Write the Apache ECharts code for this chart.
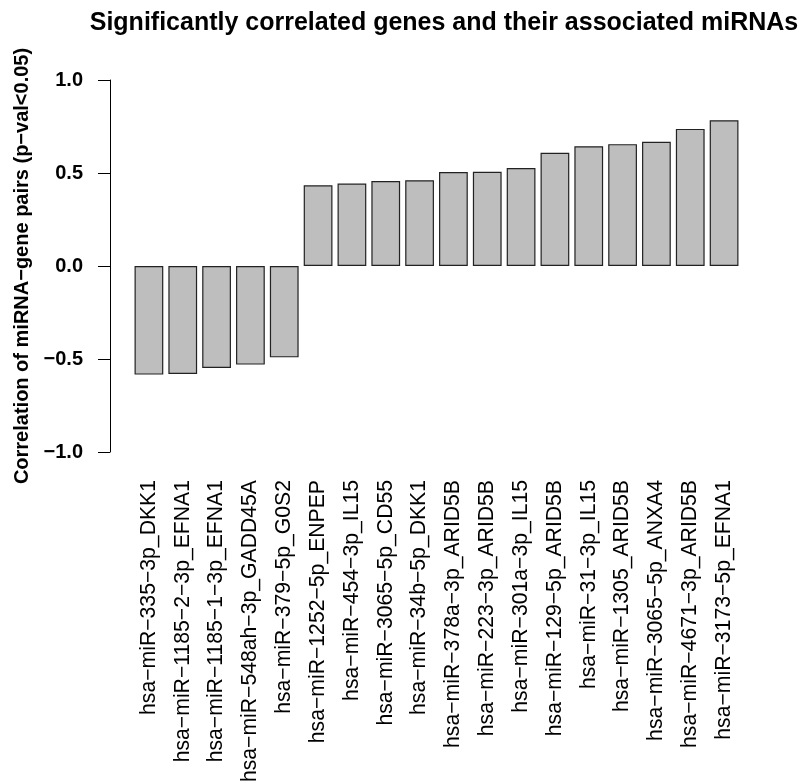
<!DOCTYPE html>
<html>
<head>
<meta charset="utf-8">
<script src="https://cdn.jsdelivr.net/npm/echarts@6/dist/echarts.min.js"></script>
<style>
  html, body { margin: 0; padding: 0; background: #fff; }
  #chart-container { width: 800px; height: 783px; }
</style>
</head>
<body>
<div id="chart-container"></div>
<script>
// miRNA-gene pairs, sorted by correlation
var pairs = [
  'hsa−miR−335−3p_DKK1',
  'hsa−miR−1185−2−3p_EFNA1',
  'hsa−miR−1185−1−3p_EFNA1',
  'hsa−miR−548ah−3p_GADD45A',
  'hsa−miR−379−5p_G0S2',
  'hsa−miR−1252−5p_ENPEP',
  'hsa−miR−454−3p_IL15',
  'hsa−miR−3065−5p_CD55',
  'hsa−miR−34b−5p_DKK1',
  'hsa−miR−378a−3p_ARID5B',
  'hsa−miR−223−3p_ARID5B',
  'hsa−miR−301a−3p_IL15',
  'hsa−miR−129−5p_ARID5B',
  'hsa−miR−31−3p_IL15',
  'hsa−miR−1305_ARID5B',
  'hsa−miR−3065−5p_ANXA4',
  'hsa−miR−4671−3p_ARID5B',
  'hsa−miR−3173−5p_EFNA1'
];

var correlations = [
  -0.584, -0.580, -0.548, -0.530, -0.491,
  0.434, 0.443, 0.457, 0.461, 0.505,
  0.507, 0.527, 0.609, 0.644, 0.655, 0.668, 0.737, 0.784
];

var yTicks = [-1.0, -0.5, 0.0, 0.5, 1.0];

var fontFamily = '"Liberation Sans", Arial, Helvetica, sans-serif';

var dom = document.getElementById('chart-container');
var myChart = echarts.init(dom, null, { renderer: 'canvas' });

var option = {
  backgroundColor: '#ffffff',
  animation: false,
  textStyle: { fontFamily: fontFamily },
  title: {
    text: 'Significantly correlated genes and their associated miRNAs',
    left: 439,
    top: 6,
    textAlign: 'center',
    textStyle: { fontSize: 25, fontWeight: 'bold', color: '#000', fontFamily: fontFamily }
  },
  grid: { left: 132, right: 59, top: 80, bottom: 331, containLabel: false, outerBoundsMode: 'none' },
  xAxis: {
    type: 'category',
    data: pairs,
    axisLine: { show: false },
    axisTick: { show: false },
    axisLabel: {
      interval: 0,
      rotate: 90,
      margin: 28,
      fontSize: 21.2,
      color: '#000',
      fontFamily: fontFamily
    }
  },
  yAxis: {
    type: 'value',
    min: yTicks[0],
    max: yTicks[yTicks.length - 1],
    interval: 0.5,
    offset: 22,
    name: 'Correlation of miRNA−gene pairs (p−val<0.05)',
    nameLocation: 'middle',
    nameGap: 75,
    nameTextStyle: { fontSize: 20, fontWeight: 'bold', color: '#000', fontFamily: fontFamily },
    axisLine: { show: true, lineStyle: { color: '#000', width: 1 } },
    axisTick: { show: true, length: 12, lineStyle: { color: '#000', width: 1 } },
    splitLine: { show: false },
    axisLabel: {
      margin: 27,
      fontSize: 20,
      fontWeight: 'bold',
      color: '#000',
      fontFamily: fontFamily,
      formatter: function (v) { return v.toFixed(1).replace('-', '−'); }
    }
  },
  series: [
    {
      type: 'bar',
      data: correlations,
      barCategoryGap: '15%',
      itemStyle: { color: '#bebebe', borderColor: '#222', borderWidth: 1.2 }
    }
  ]
};

myChart.setOption(option);
window.addEventListener('resize', myChart.resize);
</script>
</body>
</html>
